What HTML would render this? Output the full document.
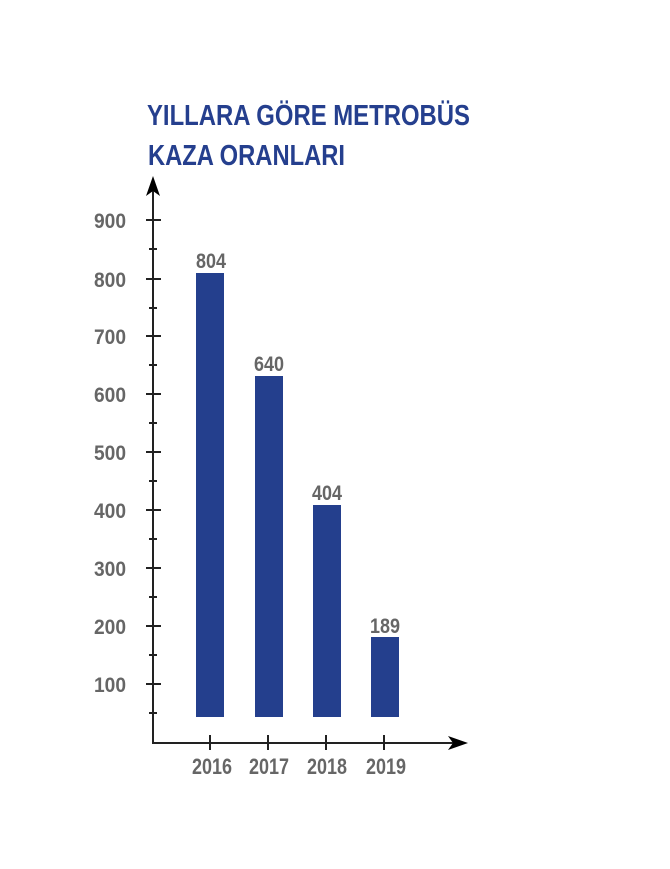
<!DOCTYPE html>
<html><head><meta charset="utf-8"><style>
html,body{margin:0;padding:0;background:#fff;}
svg{display:block;}
text{font-family:"Liberation Sans",sans-serif;font-weight:bold;}
</style></head><body>
<svg width="670" height="869" viewBox="0 0 670 869">
<text x="147" y="125" font-size="29" fill="#253f8e" textLength="323" lengthAdjust="spacingAndGlyphs">YILLARA GÖRE METROBÜS</text>
<text x="148" y="165" font-size="29" fill="#253f8e" textLength="197" lengthAdjust="spacingAndGlyphs">KAZA ORANLARI</text>
<g stroke="#222" stroke-width="2">
<line x1="153" y1="188" x2="153" y2="744"/>
<line x1="152" y1="743" x2="455" y2="743"/>
<line x1="146" y1="220" x2="161" y2="220"/><line x1="149" y1="249" x2="157" y2="249"/>
<line x1="146" y1="279" x2="161" y2="279"/><line x1="149" y1="308" x2="157" y2="308"/>
<line x1="146" y1="336" x2="161" y2="336"/><line x1="149" y1="365" x2="157" y2="365"/>
<line x1="146" y1="394" x2="161" y2="394"/><line x1="149" y1="423" x2="157" y2="423"/>
<line x1="146" y1="452" x2="161" y2="452"/><line x1="149" y1="481" x2="157" y2="481"/>
<line x1="146" y1="510" x2="161" y2="510"/><line x1="149" y1="539" x2="157" y2="539"/>
<line x1="146" y1="568" x2="161" y2="568"/><line x1="149" y1="597" x2="157" y2="597"/>
<line x1="146" y1="626" x2="161" y2="626"/><line x1="149" y1="655" x2="157" y2="655"/>
<line x1="146" y1="684" x2="161" y2="684"/><line x1="149" y1="713" x2="157" y2="713"/>
<line x1="210" y1="735" x2="210" y2="750"/><line x1="268" y1="735" x2="268" y2="750"/>
<line x1="326" y1="735" x2="326" y2="750"/><line x1="384" y1="735" x2="384" y2="750"/>
</g>
<polygon points="153,176 146,196 153,191 160,196" fill="#000"/>
<polygon points="468,743 448,736 453,743 448,750" fill="#000"/>
<g fill="#243f8d">
<rect x="196" y="273" width="28" height="444"/>
<rect x="255" y="376" width="28" height="341"/>
<rect x="313" y="505" width="28" height="212"/>
<rect x="371" y="637" width="28" height="80"/>
</g>
<g fill="#666" font-size="21" text-anchor="end">
<text x="126" y="228" textLength="32" lengthAdjust="spacingAndGlyphs">900</text>
<text x="126" y="287" textLength="32" lengthAdjust="spacingAndGlyphs">800</text>
<text x="126" y="344" textLength="32" lengthAdjust="spacingAndGlyphs">700</text>
<text x="126" y="402" textLength="32" lengthAdjust="spacingAndGlyphs">600</text>
<text x="126" y="460" textLength="32" lengthAdjust="spacingAndGlyphs">500</text>
<text x="126" y="518" textLength="32" lengthAdjust="spacingAndGlyphs">400</text>
<text x="126" y="576" textLength="32" lengthAdjust="spacingAndGlyphs">300</text>
<text x="126" y="634" textLength="32" lengthAdjust="spacingAndGlyphs">200</text>
<text x="126" y="692" textLength="32" lengthAdjust="spacingAndGlyphs">100</text>
</g>
<g fill="#666" font-size="21">
<text x="196" y="268" textLength="30" lengthAdjust="spacingAndGlyphs">804</text>
<text x="254" y="371" textLength="30" lengthAdjust="spacingAndGlyphs">640</text>
<text x="312" y="500" textLength="30" lengthAdjust="spacingAndGlyphs">404</text>
<text x="370" y="633" textLength="30" lengthAdjust="spacingAndGlyphs">189</text>
<text x="192" y="774" font-size="22" textLength="40" lengthAdjust="spacingAndGlyphs">2016</text>
<text x="249" y="774" font-size="22" textLength="40" lengthAdjust="spacingAndGlyphs">2017</text>
<text x="307" y="774" font-size="22" textLength="40" lengthAdjust="spacingAndGlyphs">2018</text>
<text x="366" y="774" font-size="22" textLength="40" lengthAdjust="spacingAndGlyphs">2019</text>
</g>
</svg>
</body></html>
